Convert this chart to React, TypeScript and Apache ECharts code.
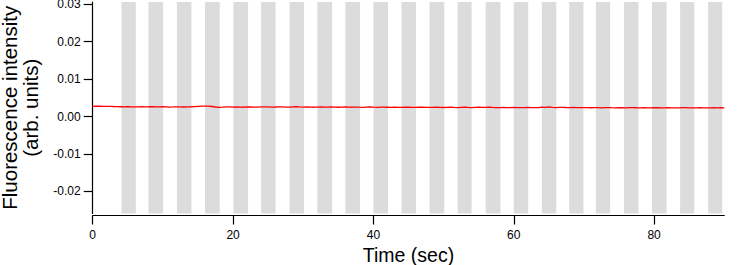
import React, { useEffect, useRef } from "react";
import * as echarts from "echarts";

// Time axis
const xMin = 0;
const xMax = 90;
const xTickValues = [0, 20, 40, 60, 80];
// Intensity axis
const yMin = -0.0259;
const yMax = 0.0306;
const yTickValues = [-0.02, -0.01, 0, 0.01, 0.02, 0.03];

// Stimulus periods (grey bands), seconds
const bandStart = [4.1, 7.95, 12.0, 16.0, 20.05, 24.0, 28.05, 32.0, 36.0, 40.0, 44.0, 48.0, 52.0, 56.0, 60.0, 64.0, 67.9, 71.7, 75.7, 79.7, 83.7, 87.7];
const bandEnd = [6.14, 10.03, 14.07, 18.1, 22.14, 26.06, 30.12, 34.12, 38.1, 42.08, 46.06, 50.1, 53.99, 58.1, 62.06, 66.06, 69.93, 73.73, 77.77, 81.78, 85.72, 89.7];

// Fluorescence trace, sampled every 0.5 s from t = 0
const sampleStart = 0;
const sampleStep = 0.5;
const intensity = [
  0.00272, 0.00275, 0.00278, 0.00274, 0.0027, 0.00273, 0.00268, 0.00265, 0.00262,
  0.00258, 0.00263, 0.0026, 0.00256, 0.00261, 0.00264, 0.00259, 0.00262,
  0.00266, 0.0026, 0.00257, 0.00263, 0.00259, 0.00254, 0.00257, 0.00261,
  0.00258, 0.00255, 0.00259, 0.00262, 0.00266, 0.00271, 0.00276, 0.0028,
  0.00277, 0.00268, 0.00255, 0.00245, 0.00252, 0.0026, 0.00258, 0.00254,
  0.00256, 0.00252, 0.00249, 0.00255, 0.00258, 0.00253, 0.0025, 0.00256,
  0.0026, 0.00257, 0.00252, 0.00255, 0.00259, 0.00256, 0.00251, 0.00254,
  0.00258, 0.00262, 0.00256, 0.00253, 0.00257, 0.00252, 0.00249, 0.00254,
  0.00257, 0.00253, 0.0025, 0.00255, 0.00251, 0.00248, 0.00253, 0.00256,
  0.00252, 0.00249, 0.00254, 0.0025, 0.00247, 0.00251, 0.00255, 0.0025,
  0.00246, 0.0025, 0.00253, 0.00249, 0.00245, 0.0025, 0.00247, 0.00243,
  0.00248, 0.00252, 0.00247, 0.00244, 0.00249, 0.00251, 0.00246, 0.00243,
  0.00247, 0.0025, 0.00246, 0.00242, 0.00245, 0.00249, 0.00244, 0.00241,
  0.00246, 0.00249, 0.00244, 0.00241, 0.00245, 0.00248, 0.00243, 0.00246,
  0.0025, 0.00245, 0.00241, 0.00238, 0.00243, 0.0024, 0.00237, 0.00242,
  0.00239, 0.00236, 0.00241, 0.00245, 0.0024, 0.00237, 0.00241, 0.00252,
  0.00246, 0.00258, 0.00244, 0.0024, 0.00243, 0.00246, 0.00242, 0.00239,
  0.00243, 0.0024, 0.00237, 0.00241, 0.00238, 0.00235, 0.00239, 0.00236,
  0.00233, 0.00237, 0.0024, 0.00236, 0.00233, 0.00238, 0.00235, 0.00232,
  0.00236, 0.00239, 0.00235, 0.00232, 0.00236, 0.00234, 0.00231, 0.00235,
  0.00238, 0.00234, 0.00231, 0.00235, 0.00232, 0.00229, 0.00233, 0.00237,
  0.0024, 0.00234, 0.0023, 0.00233, 0.00236, 0.00232, 0.00229, 0.00233,
  0.00236, 0.00232, 0.00235, 0.00231,
];

const xTitle = "Time (sec)";
const yTitle = "Fluorescence intensity\n(arb. units)";

const FONT = "'Liberation Sans', Arial, Helvetica, sans-serif";

export default function App() {
  const ref = useRef<HTMLDivElement>(null);

  useEffect(() => {
    document.body.style.margin = "0";
    if (!ref.current) return;
    const chart = echarts.init(ref.current, undefined, { renderer: "svg" });

    const traceData = intensity.map((v, i) => [sampleStart + i * sampleStep, v]);
    const bands = bandStart.map((s, i) => [{ xAxis: s }, { xAxis: bandEnd[i] }]);

    chart.setOption({
      animation: false,
      textStyle: { fontFamily: FONT },
      grid: {
        left: 92.7,
        right: 31.7,
        top: 2,
        bottom: 51.5,
        containLabel: false,
        outerBoundsMode: "none",
      },
      xAxis: {
        type: "value",
        min: xMin,
        max: xMax,
        offset: 2,
        name: xTitle,
        nameLocation: "middle",
        nameGap: 28,
        nameTextStyle: { fontSize: 19.5, color: "#000", fontFamily: FONT },
        axisLine: { show: true, onZero: false, lineStyle: { color: "#000", width: 1.2 } },
        axisTick: { show: true, length: 9, customValues: xTickValues, lineStyle: { color: "#000", width: 1.2 } },
        axisLabel: { customValues: xTickValues, fontSize: 12, color: "#000", margin: 13, fontFamily: FONT },
        splitLine: { show: false },
      },
      yAxis: {
        type: "value",
        min: yMin,
        max: yMax,
        name: yTitle,
        nameLocation: "middle",
        nameGap: 52,
        nameRotate: 90,
        nameTextStyle: { fontSize: 20.5, lineHeight: 20.5, color: "#000", fontFamily: FONT },
        axisLine: { show: true, onZero: false, lineStyle: { color: "#000", width: 1.2 } },
        axisTick: { show: true, length: 9, customValues: yTickValues, lineStyle: { color: "#000", width: 1.2 } },
        axisLabel: {
          customValues: yTickValues,
          fontSize: 12,
          color: "#000",
          margin: 12,
          fontFamily: FONT,
          formatter: (v: number) => v.toFixed(2),
        },
        splitLine: { show: false },
      },
      series: [
        {
          type: "line",
          data: traceData,
          showSymbol: false,
          symbol: "none",
          lineStyle: { color: "#ff0000", width: 1.3 },
          itemStyle: { color: "#ff0000" },
          z: 3,
          markArea: {
            silent: true,
            itemStyle: { color: "#dcdcdc" },
            data: bands,
          },
        },
      ],
    });

    return () => chart.dispose();
  }, []);

  return <div ref={ref} style={{ width: 756, height: 265 }} />;
}
